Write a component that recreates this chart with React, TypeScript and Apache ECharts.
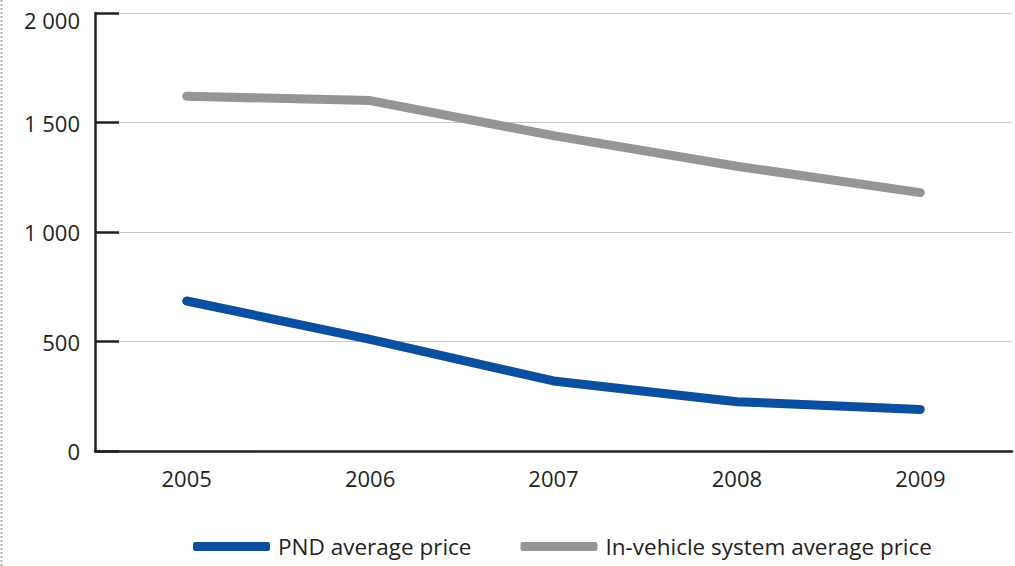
import React, { useEffect, useRef } from "react";
import * as echarts from "echarts";

const years = ["2005", "2006", "2007", "2008", "2009"];
const pndPrice = [685, 510, 320, 225, 190];
const inVehiclePrice = [1620, 1600, 1440, 1300, 1180];
const seriesNames = ["PND average price", "In-vehicle system average price"];

const fmt = (v: number) => {
  const s = String(v);
  const t = s.length > 3 ? s.slice(0, s.length - 3) + " " + s.slice(-3) : s;
  return v === 2000 ? "{top|" + t + "}" : t;
};

export default function App() {
  const ref = useRef<HTMLDivElement>(null);
  useEffect(() => {
    if (!ref.current) return;
    const chart = echarts.init(ref.current, undefined, { renderer: "svg" });
    const font = "'Open Sans', 'Noto Sans', sans-serif";
    chart.setOption({
      animation: false,
      textStyle: { fontFamily: font },
      grid: { left: 95, right: 3, top: 13, bottom: 115, containLabel: false },
      legend: {
        bottom: 3,
        left: 188,
        icon: "roundRect",
        itemWidth: 77,
        itemHeight: 9,
        itemGap: 49,
        textStyle: { fontSize: 22.5, color: "#231f20", fontFamily: font, padding: [0, 0, 0, 3] },
        data: seriesNames,
      },
      xAxis: {
        type: "category",
        data: years,
        boundaryGap: true,
        axisLine: { lineStyle: { color: "#231f20", width: 2.5 } },
        axisTick: { inside: true, length: 11, lineStyle: { color: "#231f20", width: 2 } },
        axisLabel: { fontSize: 22, color: "#231f20", margin: 16, fontFamily: font },
        splitLine: { show: false },
      },
      yAxis: {
        type: "value",
        min: 0,
        max: 2000,
        interval: 500,
        axisLine: { show: true, lineStyle: { color: "#231f20", width: 2.5 } },
        axisTick: { show: true, inside: true, length: 24, lineStyle: { color: "#231f20", width: 2.5 } },
        axisLabel: {
          fontSize: 22,
          color: "#231f20",
          margin: 15,
          formatter: fmt,
          fontFamily: font,
          rich: {
            top: { fontSize: 22, color: "#231f20", fontFamily: font, padding: [14, 0, 0, 0] },
          },
        },
        splitLine: { show: true, lineStyle: { color: "#c6c6c6", width: 1 } },
      },
      series: [
        {
          name: seriesNames[0],
          type: "line",
          data: pndPrice,
          symbol: "none",
          color: "#0a4fa0",
          lineStyle: { color: "#0a4fa0", width: 9, cap: "round", join: "round" },
        },
        {
          name: seriesNames[1],
          type: "line",
          data: inVehiclePrice,
          symbol: "none",
          color: "#939598",
          lineStyle: { color: "#939598", width: 9, cap: "round", join: "round" },
        },
      ],
      graphic: [
        {
          type: "line",
          shape: { x1: 1.5, y1: 0, x2: 1.5, y2: 566 },
          style: { stroke: "#b0b0b0", lineWidth: 2, lineDash: [2, 2] },
        },
      ],
    });
    return () => chart.dispose();
  }, []);
  return (
    <div
      ref={ref}
      style={{ position: "absolute", left: 0, top: 0, width: 1015, height: 566, background: "#fff" }}
    />
  );
}
